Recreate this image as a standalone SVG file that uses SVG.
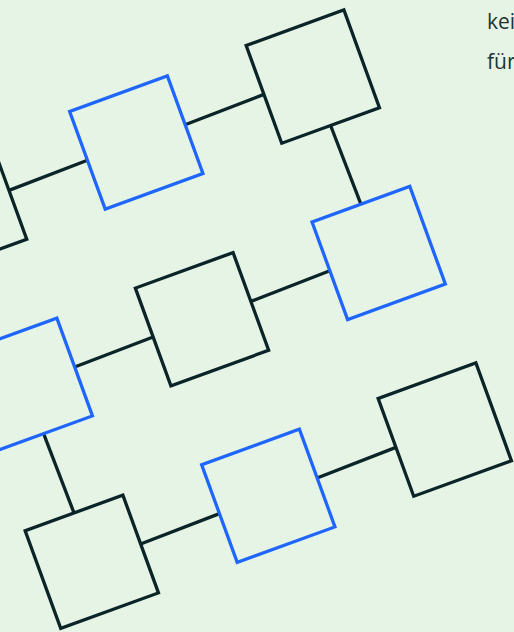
<svg xmlns="http://www.w3.org/2000/svg" width="514" height="632" viewBox="0 0 514 632">
<style>
.bg{fill:#e6f4e6}
.sq{fill:none;stroke-width:3.3;stroke-linejoin:miter}
.dk{stroke:#0b2428}
.bl{stroke:#1f66ff}
.cn line{stroke:#0b2428;stroke-width:3.3}
.tx{font-family:"Open Sans","Noto Sans",sans-serif;font-size:21px;fill:#1d3337}
</style>
<rect class="bg" x="0" y="0" width="514" height="632"/>
<g id="connectors" class="cn">
<line x1="9" y1="190.4" x2="87.4" y2="160.3"/>
<line x1="185.1" y1="124.7" x2="263.9" y2="94.4"/>
<line x1="330.6" y1="125.5" x2="360.9" y2="204.1"/>
<line x1="250.9" y1="301.4" x2="329.8" y2="270.8"/>
<line x1="74.7" y1="367" x2="153.1" y2="337"/>
<line x1="43.6" y1="433.7" x2="74" y2="512.9"/>
<line x1="140.6" y1="544" x2="219.4" y2="513.6"/>
<line x1="317.1" y1="478" x2="395.9" y2="447.4"/>
</g>
<g id="n1"><rect class="sq dk" x="-52" y="-52" width="104" height="104" transform="translate(-39.9 208.2) rotate(-20)"/></g>
<g id="n2"><rect class="sq bl" x="-52" y="-52" width="104" height="104" transform="translate(136.3 142.5) rotate(-20)"/></g>
<g id="n3"><rect class="sq dk" x="-52" y="-52" width="104" height="104" transform="translate(312.8 76.6) rotate(-20)"/></g>
<g id="n4"><rect class="sq bl" x="-52" y="-52" width="104" height="104" transform="translate(378.7 253) rotate(-20)"/></g>
<g id="n5"><rect class="sq dk" x="-52" y="-52" width="104" height="104" transform="translate(202 319.2) rotate(-20)"/></g>
<g id="n6"><rect class="sq bl" x="-52" y="-52" width="104" height="104" transform="translate(25.8 384.8) rotate(-20)"/></g>
<g id="n7"><rect class="sq dk" x="-52" y="-52" width="104" height="104" transform="translate(91.8 561.8) rotate(-20)"/></g>
<g id="n8"><rect class="sq bl" x="-52" y="-52" width="104" height="104" transform="translate(268.3 495.8) rotate(-20)"/></g>
<g id="n9"><rect class="sq dk" x="-52" y="-52" width="104" height="104" transform="translate(444.8 429.6) rotate(-20)"/></g>
<g id="text">
<text class="tx" x="487" y="28.5">kei</text>
<text class="tx" x="487" y="68.5">für</text>
</g>
</svg>
